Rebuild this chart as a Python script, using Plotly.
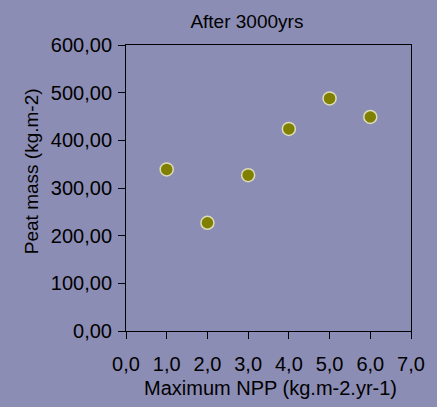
import plotly.graph_objects as go

# Peat mass after 3000 years versus maximum NPP
npp = [1.0, 2.0, 3.0, 4.0, 5.0, 6.0]
peat_mass = [339, 227, 327, 424, 488, 449]

x_ticks = [0, 1, 2, 3, 4, 5, 6, 7]
y_ticks = [0, 100, 200, 300, 400, 500, 600]

bg = "#8C8DB5"
font = "Liberation Sans, Arial, sans-serif"

fig = go.Figure(
    go.Scatter(
        x=npp,
        y=peat_mass,
        mode="markers",
        marker=dict(size=13, color="#808000", line=dict(color="#DCDCB8", width=1.5)),
        showlegend=False,
    )
)

axis_common = dict(
    showline=True,
    linecolor="black",
    linewidth=1,
    mirror=True,
    showgrid=False,
    zeroline=False,
    ticks="outside",
    ticklen=7,
    tickcolor="black",
    tickfont=dict(family=font, size=20, color="black"),
)

fig.update_xaxes(range=[0, 7], tickvals=x_ticks, tickformat=".1f",
                 ticklabelstandoff=8, **axis_common)
fig.update_yaxes(range=[0, 600], tickvals=y_ticks, tickformat=".2f",
                 ticklabelstandoff=2, **axis_common)

fig.update_layout(
    width=437,
    height=407,
    margin=dict(l=126, r=23, t=45, b=76),
    paper_bgcolor=bg,
    plot_bgcolor=bg,
    separators=",.",
    font=dict(family=font, color="black"),
    title=dict(text="After 3000yrs", x=0.565, xref="container", xanchor="center",
               y=1 - 21 / 407, yref="container", yanchor="middle",
               font=dict(family=font, size=19, color="black")),
    annotations=[
        dict(text="Maximum NPP (kg.m-2.yr-1)", xref="paper", yref="paper",
             x=0.507, y=-0.199, xanchor="center", yanchor="middle",
             showarrow=False, font=dict(family=font, size=20, color="black")),
        dict(text="Peat mass (kg.m-2)", xref="paper", yref="paper",
             x=-0.333, y=0.559, xanchor="center", yanchor="middle", textangle=-90,
             showarrow=False, font=dict(family=font, size=19, color="black")),
    ],
)

fig.write_html("out.html")
